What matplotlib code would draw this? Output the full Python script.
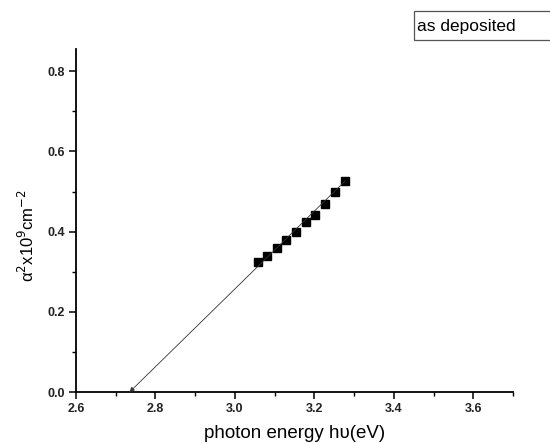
import matplotlib
matplotlib.use('Agg')
import matplotlib.pyplot as plt
from matplotlib.patches import Rectangle

plt.rcParams['font.family'] = ['Liberation Sans', 'DejaVu Sans']

# photon energy (eV) and alpha^2 (x10^9 cm^-2)
energy = [3.059, 3.082, 3.106, 3.129, 3.153, 3.178, 3.202, 3.227, 3.252, 3.278]
alpha2 = [0.325, 0.340, 0.358, 0.378, 0.399, 0.423, 0.442, 0.470, 0.499, 0.527]
# linear extrapolation to the x axis
fit_start = (3.278, 0.527)
fit_end = (2.735, 0.0)

fig = plt.figure(figsize=(5.5, 4.43), dpi=100)
ax = fig.add_axes([0.138, 0.115, 0.795, 0.774])

ax.annotate('', xy=fit_end, xytext=fit_start,
            arrowprops=dict(arrowstyle='-|>', color='#333333', lw=0.6,
                            mutation_scale=7, shrinkA=0, shrinkB=0))
ax.plot(energy, alpha2, ls='none', marker='s', ms=5.5, c='k')

ax.set_xlim(2.6, 3.7)
ax.set_ylim(0, 0.855)
ax.set_xticks([2.6, 2.8, 3.0, 3.2, 3.4, 3.6])
ax.set_xticks([2.7, 2.9, 3.1, 3.3, 3.5, 3.7], minor=True)
ax.set_yticks([0.0, 0.2, 0.4, 0.6, 0.8])
ax.set_yticks([0.1, 0.3, 0.5, 0.7], minor=True)
ax.xaxis.set_major_formatter(matplotlib.ticker.FormatStrFormatter('%.1f'))
ax.yaxis.set_major_formatter(matplotlib.ticker.FormatStrFormatter('%.1f'))
ax.spines['top'].set_visible(False)
ax.spines['right'].set_visible(False)
ax.spines['left'].set_linewidth(1.3)
ax.spines['bottom'].set_linewidth(1.3)
ax.tick_params(which='major', direction='out', length=5, width=1.1,
               labelsize=9, pad=3)
ax.tick_params(which='minor', direction='out', length=3, width=1.0)
for lab in ax.get_xticklabels() + ax.get_yticklabels():
    lab.set_fontweight('bold')
    lab.set_color('#222222')

ax.set_xlabel('photon energy h\u03c5(eV)', fontsize=13.5)
ax.xaxis.set_label_coords(0.5, -0.095)
ax.set_ylabel('\u03b1$^2$x10$^9$cm$^{-2}$', fontsize=12)
ax.yaxis.set_label_coords(-0.09, 0.455)

# label box at top right, running off the right edge
fig.patches.append(Rectangle((414 / 550, 1 - 40 / 443), 0.3, 29 / 443,
                             transform=fig.transFigure, fc='white',
                             ec='#555555', lw=0.9))
fig.text(417 / 550, 1 - 26 / 443, 'as deposited', fontsize=12.5,
         ha='left', va='center')

fig.savefig('out.png', dpi=100)
